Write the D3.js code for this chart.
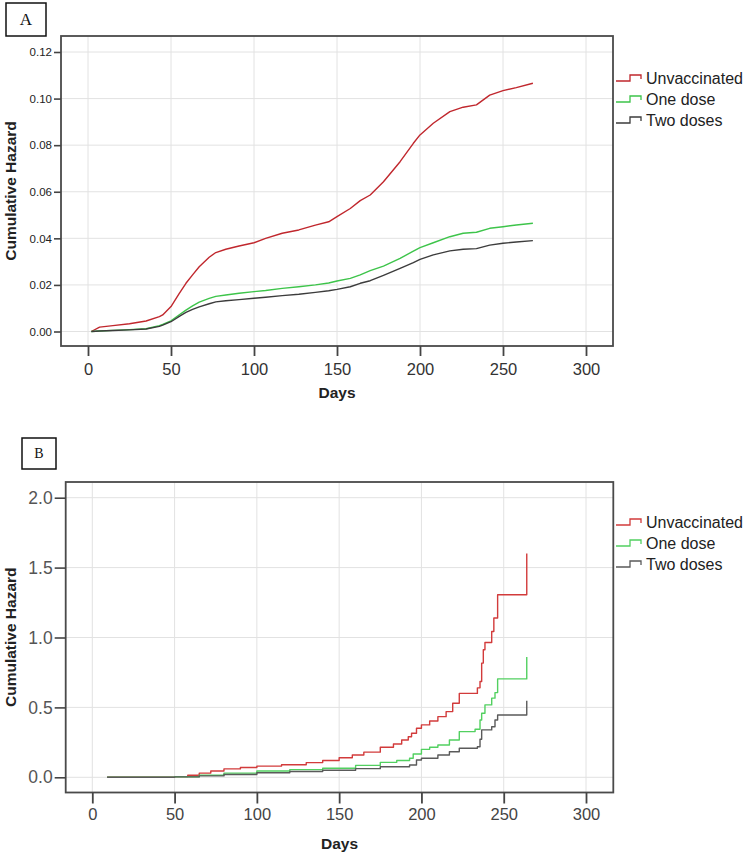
<!DOCTYPE html>
<html>
<head>
<meta charset="utf-8">
<script src="https://cdn.jsdelivr.net/npm/d3@7"></script>
<style>
  html, body { margin: 0; padding: 0; background: #fff; }
  svg { display: block; }
</style>
</head>
<body>
<script>
// ---------------- DATA ----------------
const seriesNames = ["Unvaccinated", "One dose", "Two doses"];

// Panel A (smooth Nelson-Aalen style curves)
const daysA = [2, 7, 15, 25, 35, 43, 45, 50, 55, 59, 63, 67, 73, 77, 83, 91, 100, 107, 117, 127, 137, 145, 150, 158, 164, 170, 178, 188, 196, 200, 208, 218, 226, 234, 242, 250, 258, 268];
const unvaccA = [0, 0.0019, 0.0025, 0.0033, 0.0045, 0.0064, 0.0071, 0.0107, 0.0164, 0.0207, 0.0243, 0.0278, 0.0319, 0.0339, 0.0353, 0.0367, 0.0381, 0.0400, 0.0422, 0.0436, 0.0457, 0.0471, 0.0493, 0.0528, 0.0562, 0.0586, 0.0643, 0.0729, 0.0808, 0.0844, 0.0894, 0.0944, 0.0963, 0.0973, 0.1015, 0.1034, 0.1047, 0.1066];
const oneDoseA = [0, 0.0002, 0.0005, 0.0008, 0.0012, 0.0025, 0.0030, 0.0046, 0.0072, 0.0092, 0.0110, 0.0126, 0.0142, 0.0151, 0.0157, 0.0164, 0.0171, 0.0176, 0.0185, 0.0192, 0.0200, 0.0208, 0.0217, 0.0228, 0.0243, 0.0261, 0.0281, 0.0314, 0.0345, 0.0360, 0.0381, 0.0407, 0.0422, 0.0426, 0.0443, 0.0450, 0.0457, 0.0465];
const twoDosesA = [0, 0.0002, 0.0004, 0.0007, 0.0011, 0.0022, 0.0027, 0.0042, 0.0065, 0.0082, 0.0095, 0.0106, 0.0119, 0.0127, 0.0132, 0.0137, 0.0143, 0.0147, 0.0154, 0.0160, 0.0168, 0.0175, 0.0181, 0.0192, 0.0207, 0.0218, 0.0241, 0.0271, 0.0296, 0.0310, 0.0329, 0.0346, 0.0353, 0.0356, 0.0371, 0.0379, 0.0384, 0.0390];

// Panel B (step curves)
const unvaccDaysB = [9, 50, 58, 65, 72, 80, 90, 100, 115, 130, 140, 150, 158, 165, 175, 183, 188, 192, 194, 197, 200, 205, 210, 215, 219, 223, 234, 235.6, 236.6, 237.6, 238.6, 242.7, 244, 246.3, 264];
const unvaccB = [0, 0.005, 0.015, 0.03, 0.045, 0.06, 0.07, 0.08, 0.09, 0.105, 0.12, 0.14, 0.16, 0.18, 0.215, 0.238, 0.267, 0.29, 0.315, 0.351, 0.375, 0.403, 0.434, 0.47, 0.53, 0.60, 0.64, 0.685, 0.817, 0.912, 0.964, 1.043, 1.14, 1.306, 1.60];
const oneDoseDaysB = [9, 50, 65, 80, 100, 120, 140, 160, 175, 185, 192.8, 195, 200, 205, 210, 217, 223, 232.6, 235.6, 236.6, 238.6, 242.7, 244.7, 246.3, 264];
const oneDoseB = [0, 0.004, 0.015, 0.03, 0.045, 0.055, 0.065, 0.085, 0.107, 0.12, 0.136, 0.167, 0.20, 0.215, 0.231, 0.267, 0.327, 0.344, 0.41, 0.458, 0.518, 0.566, 0.606, 0.704, 0.86];
const twoDosesDaysB = [9, 50, 65, 80, 100, 120, 140, 160, 175, 192.8, 197, 200, 210, 217, 223, 234, 235.6, 236.6, 242.7, 244.7, 246.3, 264];
const twoDosesB = [0, 0.003, 0.01, 0.02, 0.033, 0.042, 0.05, 0.062, 0.076, 0.088, 0.124, 0.136, 0.16, 0.183, 0.208, 0.219, 0.272, 0.339, 0.362, 0.41, 0.446, 0.547];

const xTicks = [0, 50, 100, 150, 200, 250, 300];
const yTicksA = [0.00, 0.02, 0.04, 0.06, 0.08, 0.10, 0.12];
const yTicksB = [0.0, 0.5, 1.0, 1.5, 2.0];

// ---------------- DRAW ----------------
const FONT = "'Liberation Sans', Arial, sans-serif";
const svg = d3.select("body").append("svg").attr("width", 750).attr("height", 858);

function zip(xs, ys) { return xs.map((d, i) => ({ x: d, y: ys[i] })); }

function drawPanel(p) {
  const g = svg.append("g");
  const x = d3.scaleLinear().domain([0, 300]).range([p.x0, p.x300]);
  const y = d3.scaleLinear().domain([0, p.yMax]).range([p.y0, p.yTop]);
  const f = p.frame;

  // gridlines
  g.append("g").selectAll("line").data(xTicks).join("line")
    .attr("x1", d => x(d)).attr("x2", d => x(d))
    .attr("y1", f.t).attr("y2", f.b)
    .attr("stroke", "#e2e2e2").attr("stroke-width", 1);
  g.append("g").selectAll("line").data(p.yTicks).join("line")
    .attr("x1", f.l).attr("x2", f.r)
    .attr("y1", d => y(d)).attr("y2", d => y(d))
    .attr("stroke", "#e2e2e2").attr("stroke-width", 1);

  // lines
  const line = d3.line().x(d => x(d.x)).y(d => y(d.y)).curve(p.curve);
  p.series.forEach(s => {
    g.append("path").datum(zip(s.days, s.values))
      .attr("d", line).attr("fill", "none")
      .attr("stroke", s.color).attr("stroke-width", 1.4)
      .attr("stroke-linejoin", "round");
  });

  // frame
  g.append("rect").attr("x", f.l).attr("y", f.t)
    .attr("width", f.r - f.l).attr("height", f.b - f.t)
    .attr("fill", "none").attr("stroke", "#4a4a4a").attr("stroke-width", 1.8);

  // axes
  const ax = g.append("g").attr("transform", `translate(0,${f.b})`)
    .call(d3.axisBottom(x).tickValues(xTicks).tickSize(p.xTickLen).tickPadding(p.xPad).tickFormat(d3.format("d")));
  ax.select(".domain").remove();
  ax.selectAll("line").attr("stroke", "#444").attr("stroke-width", 1.8);
  ax.selectAll("text").attr("font-family", FONT).attr("font-size", p.xFont).attr("fill", p.xColor);

  const ay = g.append("g").attr("transform", `translate(${f.l},0)`)
    .call(d3.axisLeft(y).tickValues(p.yTicks).tickSize(p.yTickLen).tickPadding(p.yPad).tickFormat(d3.format(p.yFmt)));
  ay.select(".domain").remove();
  ay.selectAll("line").attr("stroke", "#444").attr("stroke-width", 1.6);
  ay.selectAll("text").attr("font-family", FONT).attr("font-size", p.yFont).attr("fill", p.yColor);

  // axis titles
  g.append("text").attr("x", (f.l + f.r) / 2).attr("y", p.daysY)
    .attr("text-anchor", "middle").attr("font-family", FONT).attr("font-weight", "bold")
    .attr("font-size", 15.5).attr("fill", "#222").text("Days");
  g.append("text").attr("transform", `translate(${p.yTitleX},${(f.t + f.b) / 2}) rotate(-90)`)
    .attr("text-anchor", "middle").attr("font-family", FONT).attr("font-weight", "bold")
    .attr("font-size", 15.5).attr("fill", "#222").text("Cumulative Hazard");

  // legend
  const lg = g.append("g");
  p.series.forEach((s, i) => {
    const cy = p.legendY + i * p.legendStep;
    const lx = 616;
    lg.append("path")
      .attr("d", `M${lx},${cy + 3}H${lx + 14}V${cy - 3}H${lx + 25}V${cy + 1}`)
      .attr("fill", "none").attr("stroke", s.color).attr("stroke-width", 1.3);
    lg.append("text").attr("x", 646).attr("y", cy + 6)
      .attr("font-family", FONT).attr("font-size", 16).attr("fill", "#222").text(seriesNames[i]);
  });

  // panel label box
  const b = p.box;
  g.append("rect").attr("x", b.x).attr("y", b.y).attr("width", b.w).attr("height", b.h)
    .attr("fill", "#fff").attr("stroke", "#111").attr("stroke-width", 1.5);
  g.append("text").attr("x", b.x + b.w / 2).attr("y", b.y + b.h / 2 + b.fs * 0.35)
    .attr("text-anchor", "middle").attr("font-family", "'Liberation Serif', 'Times New Roman', serif")
    .attr("font-size", b.fs).attr("fill", "#111").text(p.label);
}

drawPanel({
  label: "A",
  box: { x: 6, y: 3, w: 40, h: 33, fs: 17 },
  frame: { l: 61, r: 613, t: 36, b: 346 },
  x0: 88, x300: 586, y0: 331.5, yTop: 52, yMax: 0.12,
  yTicks: yTicksA, yFmt: ".2f",
  xTickLen: 10, xPad: 7, xFont: 16.5, xColor: "#333",
  yTickLen: 7, yPad: 2, yFont: 11.5, yColor: "#222",
  daysY: 398, yTitleX: 16,
  legendY: 78, legendStep: 21,
  curve: d3.curveLinear,
  series: [
    { days: daysA, values: unvaccA, color: "#c0272d" },
    { days: daysA, values: oneDoseA, color: "#3dc44a" },
    { days: daysA, values: twoDosesA, color: "#3c3c3c" }
  ]
});

drawPanel({
  label: "B",
  box: { x: 22, y: 438, w: 34, h: 31, fs: 14 },
  frame: { l: 65.7, r: 613.3, t: 482, b: 792.5 },
  x0: 92.3, x300: 586, y0: 777.3, yTop: 497.7, yMax: 2.0,
  yTicks: yTicksB, yFmt: ".1f",
  xTickLen: 11, xPad: 5, xFont: 16.5, xColor: "#444",
  yTickLen: 11, yPad: 2, yFont: 17.5, yColor: "#555",
  daysY: 849, yTitleX: 16,
  legendY: 522, legendStep: 21,
  curve: d3.curveStepAfter,
  series: [
    { days: unvaccDaysB, values: unvaccB, color: "#d23b3b" },
    { days: oneDoseDaysB, values: oneDoseB, color: "#52d060" },
    { days: twoDosesDaysB, values: twoDosesB, color: "#5a5a5a" }
  ]
});
</script>
</body>
</html>
